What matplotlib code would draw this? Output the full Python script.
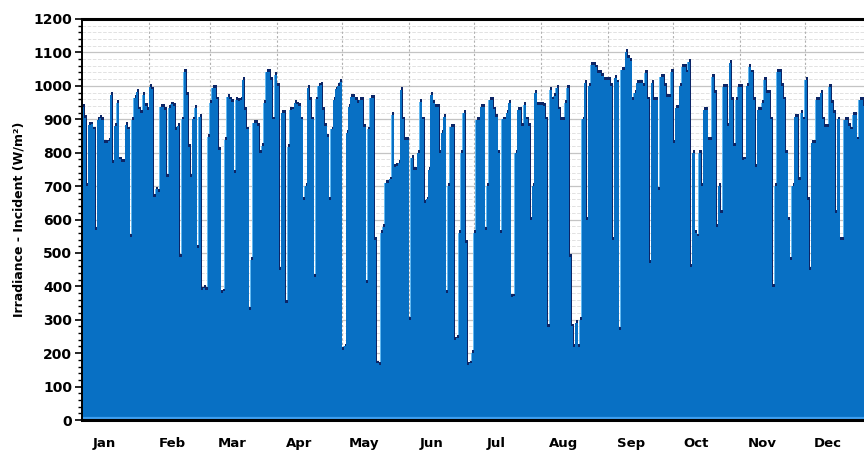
import numpy as np
import matplotlib
matplotlib.use("Agg")
import matplotlib.pyplot as plt
from matplotlib.ticker import MultipleLocator

# daily peak incident irradiance (W/m2), one list per month
jan = [937, 905, 700, 883, 885, 870, 569, 898, 905, 898, 829, 829, 835, 973, 769, 880,
       949, 780, 772, 772, 883, 870, 548, 898, 964, 982, 930, 919, 973, 940, 928]
feb = [997, 990, 667, 690, 682, 937, 937, 928, 727, 935, 945, 940, 868, 880, 488, 900,
       1042, 973, 817, 727, 900, 934, 515, 907, 389, 395, 389, 847]
mar = [950, 994, 994, 960, 808, 380, 385, 838, 967, 960, 952, 739, 958, 955, 958, 1018,
       928, 870, 329, 479, 889, 889, 880, 800, 820, 949, 1042, 1042, 1018, 900, 1033]
apr = [1000, 450, 919, 919, 350, 817, 928, 930, 949, 945, 940, 900, 658, 700, 994, 958,
       900, 428, 960, 1000, 1003, 928, 880, 847, 658, 870, 958, 990, 1000, 1012]
may = [210, 220, 859, 937, 967, 967, 958, 950, 958, 958, 877, 410, 870, 964, 964, 539,
       170, 165, 560, 578, 709, 709, 720, 913, 757, 760, 770, 988, 900, 838, 838]
jun = [300, 784, 748, 748, 800, 952, 900, 649, 660, 748, 973, 950, 937, 937, 800, 860,
       907, 380, 700, 877, 877, 239, 245, 560, 800, 919, 530, 165, 170, 200]
jul = [560, 898, 898, 937, 937, 569, 700, 958, 958, 930, 907, 800, 560, 900, 900, 920,
       949, 368, 370, 800, 928, 928, 880, 943, 900, 880, 599, 700, 979, 943, 943]
aug = [943, 940, 900, 278, 988, 960, 970, 994, 930, 898, 898, 950, 994, 488, 280, 218,
       290, 218, 300, 900, 1009, 599, 1000, 1063, 1063, 1055, 1039, 1039, 1030, 1018, 1018]
sep = [1018, 1000, 539, 1024, 1010, 269, 1048, 1048, 1101, 1083, 1075, 958, 980, 1009, 1009,
       1009, 1000, 1039, 960, 470, 1009, 958, 958, 688, 1027, 1027, 1000, 967, 967, 1042]
oct_ = [829, 934, 934, 1000, 1057, 1057, 1040, 1072, 458, 800, 560, 550, 800, 700, 928, 928,
        838, 838, 1027, 979, 578, 700, 620, 997, 997, 880, 1069, 958, 820, 958, 997]
nov = [997, 778, 780, 1000, 1057, 1040, 958, 757, 928, 928, 950, 1018, 979, 979, 900, 398,
       700, 1042, 1042, 1000, 960, 799, 600, 479, 700, 907, 907, 718, 920, 900]
dec = [1018, 658, 450, 829, 829, 958, 958, 979, 900, 877, 877, 997, 950, 919, 619, 900,
       539, 540, 898, 898, 880, 870, 913, 913, 840, 958, 958, 940, 920, 930, 900]

month_labels = ["Jan", "Feb", "Mar", "Apr", "May", "Jun",
                "Jul", "Aug", "Sep", "Oct", "Nov", "Dec"]
months = [jan, feb, mar, apr, may, jun, jul, aug, sep, oct_, nov, dec]

values = np.concatenate(months)
days = np.arange(len(values))
month_len = [len(m) for m in months]
month_start = np.concatenate([[0], np.cumsum(month_len)[:-1]])

BLUE = "#0870c4"
NAVY = "#0c2566"
LIGHT = "#62b8f0"

fig = plt.figure(figsize=(8.64, 4.55), dpi=100)
# axes runs a little past the right edge, like the cropped original
ax = fig.add_axes([82 / 864, 35 / 455, 790 / 864, 401 / 455])

# light edge on rising sides, dark edge on falling sides and tops, blue body
ax.bar(days - 0.25, values, width=1.0, align="edge", color=LIGHT, linewidth=0, zorder=2)
ax.bar(days + 0.3, values + 8, width=1.0, align="edge", color=NAVY, linewidth=0, zorder=2)
ax.bar(days, values, width=1.0, align="edge", color=BLUE, linewidth=0, zorder=3)
ax.axhline(6, color="#3f9ff0", lw=1.6, zorder=4)

ax.set_xlim(0, 365)
ax.set_ylim(0, 1200)

# grid
ax.yaxis.set_major_locator(MultipleLocator(100))
ax.yaxis.set_minor_locator(MultipleLocator(20))
ax.grid(axis="y", which="major", color="#c4c4c4", lw=0.9, zorder=0)
ax.grid(axis="y", which="minor", color="#e2e2e2", lw=0.7, ls="--", zorder=0)
for s in month_start[1:]:
    ax.axvline(s, color="#b0b0b0", lw=0.8, ls=(0, (2, 2)), zorder=1)
ax.set_axisbelow(True)

# month labels sit ~10 days into each month, no tick marks
ax.set_xticks(month_start + 10.5)
ax.set_xticklabels(month_labels, fontsize=9.5, fontweight="bold")
ax.tick_params(axis="x", length=0, pad=12)
ax.tick_params(axis="y", which="major", length=5, width=1.2, labelsize=10, pad=2)
ax.tick_params(axis="y", which="minor", length=3, width=1)
for lab in ax.get_yticklabels():
    lab.set_fontweight("bold")

ax.set_ylabel("Irradiance - Incident (W/m²)", fontsize=9, fontweight="bold", labelpad=6)

ax.spines["top"].set_linewidth(2.2)
ax.spines["bottom"].set_linewidth(2.2)
ax.spines["left"].set_linewidth(1.4)
ax.spines["right"].set_visible(False)
for sp in ax.spines.values():
    sp.set_zorder(6)

fig.savefig("out.png", dpi=100)
